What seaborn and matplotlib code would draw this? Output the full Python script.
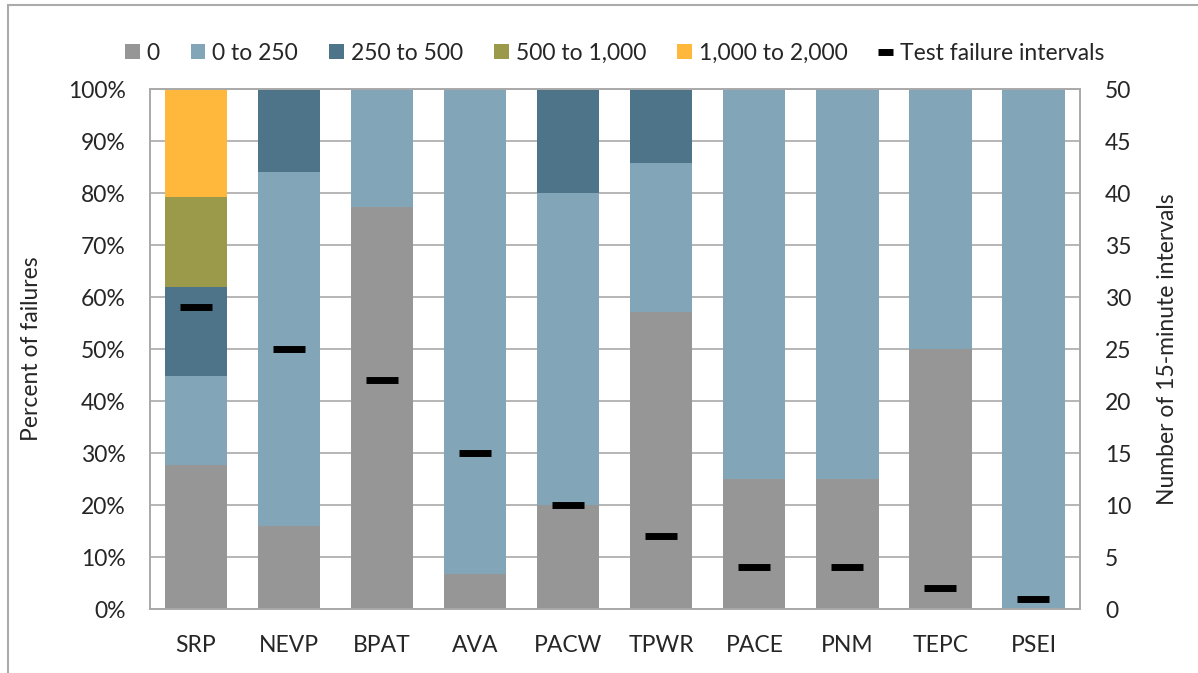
import matplotlib
matplotlib.use("Agg")
import matplotlib.pyplot as plt
import matplotlib.patches as mpatches
from matplotlib.lines import Line2D
from matplotlib.ticker import PercentFormatter
import seaborn as sns
import pandas as pd
import numpy as np

# ---- data ----
categories = ["SRP", "NEVP", "BPAT", "AVA", "PACW", "TPWR", "PACE", "PNM", "TEPC", "PSEI"]
series_names = ["0", "0 to 250", "250 to 500", "500 to 1,000", "1,000 to 2,000"]
pct_0 = [27.6, 16.0, 77.3, 6.7, 20.0, 57.1, 25.0, 25.0, 50.0, 0.0]
pct_0_250 = [17.2, 68.0, 22.7, 93.3, 60.0, 28.6, 75.0, 75.0, 50.0, 100.0]
pct_250_500 = [17.2, 16.0, 0.0, 0.0, 20.0, 14.3, 0.0, 0.0, 0.0, 0.0]
pct_500_1000 = [17.2, 0.0, 0.0, 0.0, 0.0, 0.0, 0.0, 0.0, 0.0, 0.0]
pct_1000_2000 = [20.8, 0.0, 0.0, 0.0, 0.0, 0.0, 0.0, 0.0, 0.0, 0.0]
test_intervals = [29, 25, 22, 15, 10, 7, 4, 4, 2, 1]
left_ticks = [0, 10, 20, 30, 40, 50, 60, 70, 80, 90, 100]
right_ticks = [0, 5, 10, 15, 20, 25, 30, 35, 40, 45, 50]

colors = ["#969696", "#82A5B8", "#4E7489", "#9A9A4A", "#FFB83C"]
grid_c = "#A9A9A9"

sns.set_theme(style="white")
plt.rcParams["font.family"] = ["Lato", "DejaVu Sans"]

fig = plt.figure(figsize=(11.98, 6.73), dpi=100)
ax = fig.add_axes([149.5 / 1198, 64 / 673, 930.5 / 1198, 520 / 673])

layers = [pct_0, pct_0_250, pct_250_500, pct_500_1000, pct_1000_2000]
cum = np.cumsum(np.array(layers, dtype=float), axis=0)
for i in range(len(layers) - 1, -1, -1):
    df = pd.DataFrame({"cat": categories, "val": cum[i]})
    sns.barplot(data=df, x="cat", y="val", order=categories, color=colors[i],
                saturation=1, width=0.67, ax=ax, linewidth=0, zorder=2)

ax.set_xlim(-0.5, len(categories) - 0.5)
ax.set_ylim(0, 100)
ax.set_yticks(left_ticks)
ax.yaxis.set_major_formatter(PercentFormatter(decimals=0))
ax.grid(axis="y", color=grid_c, linewidth=1.2, zorder=0)
ax.set_axisbelow(True)
ax.set_xlabel("")
ax.set_ylabel("Percent of failures", fontsize=16.5)
ax.yaxis.set_label_coords(-0.1155, 0.5)
ax.tick_params(axis="both", length=0, labelsize=16.5)
ax.tick_params(axis="y", pad=17)
ax.tick_params(axis="x", pad=19)
for s in ax.spines.values():
    s.set_color(grid_c)
    s.set_linewidth(1.2)

ax2 = ax.twinx()
ax2.set_ylim(0, 50)
ax2.set_yticks(right_ticks)
ax2.plot(np.arange(len(categories)), test_intervals, linestyle="none", marker="_",
         markersize=23, markeredgewidth=5, color="black", zorder=5)
ax2.set_ylabel("Number of 15-minute intervals", fontsize=16.5)
ax2.yaxis.set_label_coords(1.0827, 0.5)
ax2.tick_params(axis="y", length=0, labelsize=16.5, pad=18)
ax2.grid(False)
for s in ax2.spines.values():
    s.set_color(grid_c)
    s.set_linewidth(1.2)

handles = [mpatches.Patch(facecolor=c, edgecolor="none", label=n) for c, n in zip(colors, series_names)]
handles.append(Line2D([0], [0], color="black", linewidth=5, solid_capstyle="butt",
                      label="Test failure intervals"))
fig.legend(handles=handles, loc="center", bbox_to_anchor=(0.513, 1 - 53 / 673), ncol=6,
           frameon=False, fontsize=16.5, handlelength=0.65, handleheight=0.65,
           handletextpad=0.3, columnspacing=1.35)

# outer chart border
fig.patches.append(mpatches.Rectangle((8 / 1198, -0.1), 1.2, 1.1 - 5 / 673, transform=fig.transFigure,
                                      fill=False, edgecolor="#ABABAB", linewidth=1.5))

fig.savefig("out.png", dpi=100)
